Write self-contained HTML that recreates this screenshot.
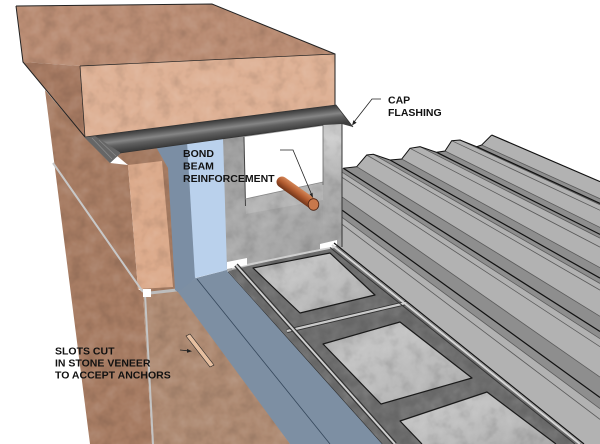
<!DOCTYPE html>
<html><head><meta charset="utf-8">
<style>
html,body{margin:0;padding:0;background:#fff;overflow:hidden;width:600px;height:444px;}
svg{display:block;overflow:hidden;}
text{font-family:"Liberation Sans",Arial,sans-serif;font-weight:bold;font-size:10.5px;fill:#111;}
</style></head>
<body>
<svg width="600" height="444" viewBox="0 0 600 444" xmlns="http://www.w3.org/2000/svg">
<defs>
<clipPath id="frame"><rect x="0" y="0" width="600" height="444"/></clipPath>
<filter id="tex" x="0" y="0" width="100%" height="100%" color-interpolation-filters="sRGB">
<feTurbulence type="fractalNoise" baseFrequency="0.07" numOctaves="3" seed="4" result="n"/>
<feColorMatrix in="n" type="matrix" values="0 0 0 0 0  0 0 0 0 0  0 0 0 0 0  0.28 0 0 0 -0.14" result="a"/>
<feComposite in="a" in2="SourceGraphic" operator="in" result="b"/>
<feColorMatrix in="n" type="matrix" values="0 0 0 0 1  0 0 0 0 1  0 0 0 0 1  -0.28 0 0 0 0.14" result="c"/>
<feComposite in="c" in2="SourceGraphic" operator="in" result="d"/>
<feMerge><feMergeNode in="SourceGraphic"/><feMergeNode in="b"/><feMergeNode in="d"/></feMerge>
</filter>
<linearGradient id="fl" gradientUnits="userSpaceOnUse" x1="200" y1="122.3" x2="202.4" y2="141.1">
<stop offset="0" stop-color="#3a3a3a"/><stop offset="0.18" stop-color="#555"/><stop offset="0.45" stop-color="#858585"/><stop offset="0.65" stop-color="#606060"/><stop offset="1" stop-color="#3e3e3e"/>
</linearGradient>
<linearGradient id="rb" gradientUnits="userSpaceOnUse" x1="301.5" y1="188.1" x2="294.5" y2="197.9">
<stop offset="0" stop-color="#d98d5e"/><stop offset="0.5" stop-color="#b35c30"/><stop offset="1" stop-color="#6e3318"/>
</linearGradient>
<linearGradient id="col" x1="0" y1="0" x2="0" y2="1">
<stop offset="0" stop-color="#bdbdbd"/><stop offset="0.15" stop-color="#cfcfcf"/><stop offset="0.5" stop-color="#acacac"/><stop offset="1" stop-color="#a2a2a2"/>
</linearGradient>
<linearGradient id="cell" x1="0" y1="0" x2="1" y2="1">
<stop offset="0" stop-color="#9c9c9c"/><stop offset="0.3" stop-color="#c4c4c4"/><stop offset="0.7" stop-color="#b8b8b8"/><stop offset="1" stop-color="#a6a6a6"/>
</linearGradient>
<linearGradient id="blk" x1="0" y1="0" x2="1" y2="1">
<stop offset="0" stop-color="#9a9a9a"/><stop offset="0.5" stop-color="#ababab"/><stop offset="1" stop-color="#9e9e9e"/>
</linearGradient>
</defs>
<rect width="600" height="444" fill="#fff"/>
<g clip-path="url(#frame)">

<!-- DECK -->
<polygon fill="#b2b2b2" points="262,444 262,183 272,171.3 279,170.6 295.5,176.3 310.2,174.7 320.2,163 326.8,162.3 343.3,168.3 356.7,166.7 366.7,155 373.3,154.3 390,160 401.7,159 410,148.3 420,146.7 436.7,152.3 445,151 451.7,140.7 460,140 476.7,146.7 481.7,145 491.7,135 600,181.6 600,444"/>
<g fill="#8e8e8e">
<polygon points="460,140 476.7,146.7 481.7,145 600,198.7 600,204.7"/>
<polygon points="420,146.7 436.7,152.3 445,151 600,227.4 600,238.1"/>
<polygon points="373.3,154.3 390,160 401.7,159 600,267.7 600,283.5"/>
<polygon points="326.8,162.3 343.3,168.3 356.7,166.7 600,316.3 600,338.7"/>
<polygon points="279,170.6 295.5,176.3 310.2,174.7 600,377.1 600,408.7"/>
</g>
<g stroke="#5a5a5a" stroke-width="0.8" fill="none">
<line x1="481.7" y1="145" x2="600" y2="198.7"/>
<line x1="460" y1="140" x2="600" y2="204.7"/>
<line x1="451.7" y1="140.7" x2="600" y2="210.3"/>
<line x1="445" y1="151" x2="600" y2="227.4"/>
<line x1="420" y1="146.7" x2="600" y2="238.1"/>
<line x1="410" y1="148.3" x2="600" y2="247.1"/>
<line x1="401.7" y1="159" x2="600" y2="267.7"/>
<line x1="373.3" y1="154.3" x2="600" y2="283.5"/>
<line x1="366.7" y1="155" x2="600" y2="290.1"/>
<line x1="356.7" y1="166.7" x2="600" y2="316.3"/>
<line x1="326.8" y1="162.3" x2="600" y2="338.7"/>
<line x1="320.2" y1="163" x2="600" y2="346.7"/>
<line x1="310.2" y1="174.7" x2="600" y2="377.1"/>
<line x1="279" y1="170.6" x2="600" y2="408.7"/>
<line x1="272" y1="171.3" x2="600" y2="419.4"/>
</g>
<g stroke="#111" stroke-width="1.2" fill="none">
<line x1="476.7" y1="146.7" x2="600" y2="203.4"/>
<line x1="436.7" y1="152.3" x2="600" y2="234.4"/>
<line x1="390" y1="160" x2="600" y2="278.1"/>
<line x1="343.3" y1="168.3" x2="600" y2="331.5"/>
<line x1="295.5" y1="176.3" x2="600" y2="397.5"/>
<line x1="491.7" y1="135" x2="600" y2="181.6"/>
<polyline stroke-width="1" points="343.3,168.3 356.7,166.7 366.7,155 373.3,154.3 390,160 401.7,159 410,148.3 420,146.7 436.7,152.3 445,151 451.7,140.7 460,140 476.7,146.7 481.7,145 491.7,135"/>
</g>

<!-- BOND BEAM BLOCK -->
<g filter="url(#tex)">
<polygon fill="url(#blk)" points="220,139 323,123 342,119 342,247 227,271 221,271"/>
<polygon fill="url(#col)" points="323,123 342,119 342,246 323,250"/>
<polygon fill="#b4b4b4" points="245,199 323,182 323,200 246,214"/>
</g>
<polygon fill="#fff" points="244,137 323,126 323,182 245,199"/>
<line x1="244" y1="137" x2="245.5" y2="206" stroke="#444" stroke-width="1"/>
<line x1="245" y1="199" x2="323" y2="182" stroke="#888" stroke-width="0.8"/>
<line x1="323" y1="124" x2="323" y2="185" stroke="#666" stroke-width="0.8"/>
<line x1="342" y1="119" x2="342" y2="247" stroke="#333" stroke-width="1"/>
<!-- rebar -->
<line x1="282" y1="182" x2="313" y2="204" stroke="url(#rb)" stroke-width="11" stroke-linecap="round"/>
<ellipse cx="313.5" cy="204.5" rx="5.3" ry="5.8" fill="#c8784c" stroke="#4a2010" stroke-width="0.8"/>

<!-- TRAY -->
<g filter="url(#tex)">
<polygon fill="#6e6e6e" points="228,271 335,245 582,444 382,444"/>
</g>
<line x1="228" y1="272" x2="382" y2="444" stroke="#222" stroke-width="1"/>
<line x1="232" y1="268" x2="334" y2="247" stroke="#cfcfcf" stroke-width="2"/>
<polygon fill="#fff" points="227,262 247,258 247,265 227,269"/>
<polygon fill="#fff" points="320,244 337,240 337,246 320,249"/>
<g filter="url(#tex)">
<g fill="url(#cell)">
<polygon points="253,268 330,253 375,295 300,313"/>
<polygon points="323,344 400,322 472,378 381,404"/>
<polygon points="400,421 487,392 556,444 422,444"/>
</g>
</g>
<g fill="none" stroke="#1a1a1a" stroke-width="1.2" stroke-linejoin="round">
<polygon points="253,268 330,253 375,295 300,313"/>
<polygon points="323,344 400,322 472,378 381,404"/>
<polyline points="422,444 400,421 487,392 556,444"/>
</g>
<line x1="287" y1="331" x2="406" y2="303" stroke="#333" stroke-width="4"/>
<line x1="287" y1="331" x2="406" y2="303" stroke="#cbcbcb" stroke-width="2.2"/>
<line x1="236" y1="265" x2="395" y2="444" stroke="#333" stroke-width="4.5"/>
<line x1="236" y1="265" x2="395" y2="444" stroke="#cfcfcf" stroke-width="2"/>
<line x1="334" y1="243" x2="584" y2="444" stroke="#111" stroke-width="1.2"/>
<line x1="332" y1="245" x2="580" y2="444" stroke="#d6d6d6" stroke-width="2"/>
<line x1="330" y1="247.5" x2="575" y2="444" stroke="#333" stroke-width="1"/>

<!-- BLUE FLOOR -->
<polygon fill="#7d8fa3" points="176,292 196,278 227,270 228,272 382,444 290,444"/>
<line x1="197" y1="279" x2="330" y2="444" stroke="#34465a" stroke-width="0.8"/>

<!-- PIER -->
<g filter="url(#tex)">
<polygon fill="#a77c63" points="45,90 85,137 110,163 128,165 138,289 143,292 152,444 90,444"/>
<polygon fill="#a47a61" points="110,150 160,146 170,166 178,292 143,292 128,165"/>
<polygon fill="#ae8a72" points="143,292 178,292 290,444 152,444"/>
<polygon fill="#dcab8c" points="128,165 162,161 173,287 138,289"/>
</g>
<line x1="53" y1="163" x2="143" y2="292" stroke="#c8c8c8" stroke-width="2"/>
<line x1="145" y1="294" x2="153" y2="444" stroke="#c4c4c4" stroke-width="2"/>
<line x1="150" y1="293" x2="177" y2="290" stroke="#bdbdbd" stroke-width="3"/>
<rect x="143" y="289" width="8" height="8" fill="#fff"/>
<polygon points="186,336 190,334 214,365 210,367" fill="#e6bfa0" stroke="#222" stroke-width="0.6"/>

<!-- VERTICAL MEMBRANE -->
<polygon fill="#7b8ea4" points="156,147 190,141 196,278 178,292 175,290 168,168"/>
<polygon fill="#bad1ec" points="187,141 223,137 227,270 195,278"/>

<!-- CAPSTONE -->
<g filter="url(#tex)">
<polygon fill="#b98c73" points="16,6 212,4 335,54 80,66 23,62"/>
<polygon fill="#a67a62" points="23,62 80,66 85,137"/>
<polygon fill="#deb195" points="80,66 335,54 335,105 85,137"/>
</g>
<g fill="none" stroke="#222" stroke-width="1">
<polyline points="16,6 212,4 335,54 335,105"/>
<polyline points="16,6 23,62 85,137"/>
<line x1="80" y1="66" x2="335" y2="54" stroke-width="0.7"/>
<line x1="80" y1="66" x2="85" y2="137" stroke-width="0.7"/>
</g>

<!-- FLASHING -->
<polygon fill="url(#fl)" points="85,137 336,105 353,127 342,124 323,125 120,153 110,163"/>
<polygon fill="#666" points="84,137 95,136 121,153 110,163"/>
<g stroke="#8a8a8a" stroke-width="0.8">
<line x1="92" y1="138" x2="112" y2="159"/>
<line x1="99" y1="140" x2="116" y2="156"/>
</g>
<polyline points="85,137 336,105 353,127" fill="none" stroke="#333" stroke-width="0.8"/>
<line x1="120" y1="153" x2="323" y2="125" stroke="#333" stroke-width="0.7"/>

<!-- LEADERS -->
<g stroke="#222" stroke-width="0.8" fill="none">
<polyline points="381,99 372,99 354,122"/>
<polyline points="280,150 293,150 311,193"/>
<line x1="180" y1="350" x2="188" y2="350.8"/>
</g>
<g fill="#222">
<polygon points="352,125.5 356.6,122.7 353.4,120.3"/>
<polygon points="313,198 312.5,192.8 309.5,194"/>
<polygon points="192,351.2 187,348.9 187,352.7"/>
</g>

<!-- TEXT -->
<text x="183" y="157">BOND</text>
<text x="183" y="169.5">BEAM</text>
<text x="183" y="182">REINFORCEMENT</text>
<text x="388" y="103.5">CAP</text>
<text x="388" y="116">FLASHING</text>
<text x="55" y="354.5">SLOTS CUT</text>
<text x="55" y="366.5">IN STONE VENEER</text>
<text x="55" y="378.5">TO ACCEPT ANCHORS</text>
</g>
</svg>
</body></html>
